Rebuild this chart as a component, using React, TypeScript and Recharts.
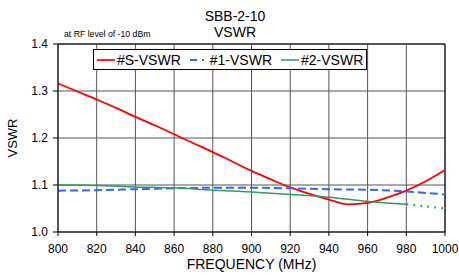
import React from "react";
import {
  LineChart,
  Line,
  XAxis,
  YAxis,
  CartesianGrid,
  ReferenceLine,
  Label,
} from "recharts";

// values
const sFreq = [800, 810, 820, 830, 840, 850, 860, 870, 880, 890, 900, 910, 920, 930, 940, 950, 960, 970, 980, 990, 1000];
const sVswr = [1.316, 1.299, 1.282, 1.264, 1.245, 1.227, 1.208, 1.189, 1.17, 1.15, 1.13, 1.112, 1.095, 1.081, 1.069, 1.059, 1.062, 1.073, 1.088, 1.108, 1.132];

const p1Freq = [800, 820, 840, 860, 880, 900, 920, 940, 960, 980, 1000];
const p1Vswr = [1.088, 1.089, 1.091, 1.093, 1.094, 1.094, 1.093, 1.091, 1.09, 1.086, 1.08];

const p2Freq = [800, 820, 840, 860, 880, 900, 920, 940, 960, 980];
const p2Vswr = [1.1, 1.099, 1.096, 1.094, 1.089, 1.085, 1.08, 1.074, 1.065, 1.059];

// dotted tail of #2 beyond the measured range
const p2TailFreq = [980, 1000];
const p2TailVswr = [1.059, 1.05];

const xTicks = [800, 820, 840, 860, 880, 900, 920, 940, 960, 980, 1000];
const yTicks = [1.0, 1.1, 1.2, 1.3, 1.4];

const FONT = "'Liberation Sans', Arial, sans-serif";

const toPoints = (xs: number[], ys: number[]) => xs.map((f, i) => ({ freq: f, vswr: ys[i] }));

const legendItems = [
  { name: "#S-VSWR", color: "#ff0000", dash: undefined, width: 1.75 },
  { name: "#1-VSWR", color: "#3366ff", dash: "7 5 2 10", width: 2 },
  { name: "#2-VSWR", color: "#339966", dash: undefined, width: 1.5 },
];

function LegendBox() {
  return (
    <div
      style={{
        position: "absolute",
        left: 93,
        top: 49,
        display: "flex",
        alignItems: "center",
        border: "1px solid #000",
        background: "#fff",
        height: 19,
        padding: "0 3px 0 3px",
        fontFamily: FONT,
        fontSize: 14,
        color: "#000",
        whiteSpace: "nowrap",
      }}
    >
      {legendItems.map((it, i) => (
        <div
          key={it.name}
          style={{ display: "flex", alignItems: "center", marginRight: i < legendItems.length - 1 ? 9 : 0 }}
        >
          <svg width={18} height={10} style={{ marginRight: 2 }}>
            <line x1={0} y1={5} x2={18} y2={5} stroke={it.color} strokeWidth={it.width} strokeDasharray={it.dash} />
          </svg>
          <span>{it.name}</span>
        </div>
      ))}
    </div>
  );
}

export default function App() {
  return (
    <div style={{ position: "absolute", left: 0, top: 0, width: 459, height: 279, background: "#fff", fontFamily: FONT }}>
      <div style={{ position: "absolute", left: 0, width: 470, top: 8, textAlign: "center", fontSize: 14, lineHeight: "16px" }}>
        SBB-2-10
        <br />
        VSWR
      </div>
      <div style={{ position: "absolute", left: 64, top: 29, fontSize: 8.7 }}>at RF level of -10 dBm</div>
      <LineChart width={459} height={279} margin={{ top: 44, right: 14, bottom: 0, left: 0 }} style={{ fontFamily: FONT }}>
        <CartesianGrid stroke="#555" strokeWidth={1} />
        <XAxis
          dataKey="freq"
          type="number"
          domain={[800, 1000]}
          ticks={xTicks}
          height={47}
          tickSize={4}
          tickMargin={8}
          stroke="#000"
          tick={{ fill: "#000", fontSize: 12 }}
          allowDuplicatedCategory={false}
        >
          <Label value="FREQUENCY (MHz)" position="center" dy={9} style={{ fontSize: 14, fill: "#000" }} />
        </XAxis>
        <YAxis
          type="number"
          domain={[1.0, 1.4]}
          ticks={yTicks}
          width={58}
          tickSize={5}
          tickMargin={5}
          stroke="#000"
          tick={{ fill: "#000", fontSize: 12 }}
          tickFormatter={(v: number) => v.toFixed(1)}
        >
          <Label value="VSWR" angle={-90} position="center" dx={-17} style={{ fontSize: 13, fill: "#000" }} />
        </YAxis>
        <ReferenceLine y={1.4} stroke="#000" />
        <ReferenceLine x={1000} stroke="#000" />
        <Line
          data={toPoints(sFreq, sVswr)}
          dataKey="vswr"
          name="#S-VSWR"
          type="monotone"
          stroke="#ff0000"
          strokeWidth={1.75}
          dot={false}
          isAnimationActive={false}
        />
        <Line
          data={toPoints(p1Freq, p1Vswr)}
          dataKey="vswr"
          name="#1-VSWR"
          type="monotone"
          stroke="#3366ff"
          strokeWidth={2}
          strokeDasharray="8 4"
          dot={false}
          isAnimationActive={false}
        />
        <Line
          data={toPoints(p2Freq, p2Vswr)}
          dataKey="vswr"
          name="#2-VSWR"
          type="monotone"
          stroke="#339966"
          strokeWidth={1.5}
          dot={false}
          isAnimationActive={false}
        />
        <Line
          data={toPoints(p2TailFreq, p2TailVswr)}
          dataKey="vswr"
          name="#2-tail"
          type="linear"
          stroke="#339966"
          strokeWidth={2}
          strokeDasharray="2 5"
          legendType="none"
          dot={false}
          isAnimationActive={false}
        />
      </LineChart>
      <LegendBox />
    </div>
  );
}
